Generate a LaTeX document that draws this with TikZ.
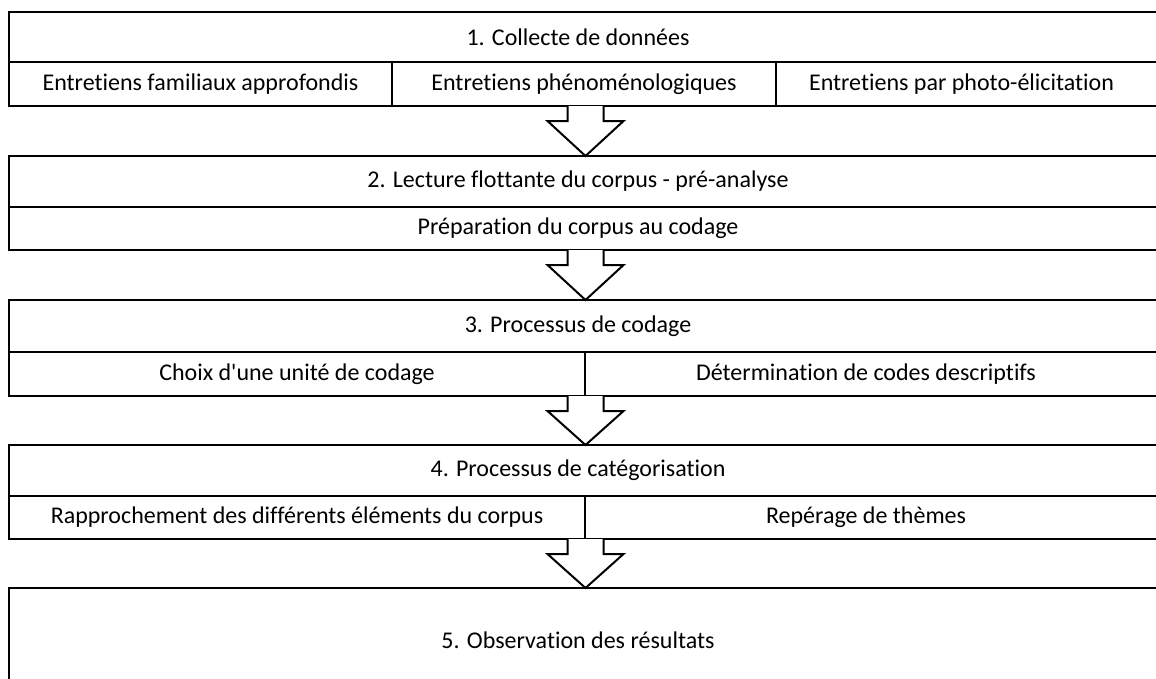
\documentclass[tikz,border=0pt]{standalone}
\usepackage{fontspec}
\setmainfont{Carlito}[Ligatures={TeXOff,NoCommon}]
\usetikzlibrary{calc}

\tikzset{
  x=1pt, y=-1pt,
  frame/.style={line width=2pt, line cap=rect},
  cell/.style={inner sep=0pt, outer sep=0pt, font=\fontsize{24}{28}\selectfont},
  arr/.style={line width=2pt, fill=white, line join=miter},
}

% cell node: #1 name, #2 left, #3 top, #4 right, #5 bottom, #6 text
\newcommand\cellnode[6]{%
  \node[cell, minimum width={(#4)-(#2)}, minimum height={(#5)-(#3)}]
    (#1) at ({((#2)+(#4))/2},{((#3)+(#5))/2}) {#6};}

% hollow block arrow from the bottom of one box to the top of the next
\newcommand\flowarrow[2]{%
  \path (ax |- #1.south) coordinate (s) (ax |- #2.north) coordinate (e);
  \draw[arr] ([xshift=-18pt]s) -- ++(0,15) -- ++(-20,0) -- (e)
    -- ($(s)+(38,15)$) -- ++(-20,0) -- ([xshift=18pt]s);}

\begin{document}
\begin{tikzpicture}
\useasboundingbox (0,0) rectangle (1156,678);
\clip (0,0) rectangle (1156,678);
\coordinate (ax) at (585.5,0);

% 1. data collection
\cellnode{t1}{9}{12}{1147}{62}{1. Collecte de données}
\cellnode{r1a}{9}{62}{392}{106}{Entretiens familiaux approfondis}
\cellnode{r1b}{392}{62}{776}{106}{Entretiens phénoménologiques}
\cellnode{r1c}{776}{62}{1147}{106}{Entretiens par photo-élicitation}
\draw[frame] (1170,0 |- t1.north) -| (r1a.south west) -- (1170,0 |- r1a.south);
\draw[frame] (t1.south west) -- (1170,0 |- t1.south);
\draw[frame] (r1a.north east) -- (r1a.south east);
\draw[frame] (r1b.north east) -- (r1b.south east);

% 2. first reading
\cellnode{t2}{9}{156}{1147}{207}{2. Lecture flottante du corpus - pré-analyse}
\cellnode{r2}{9}{207}{1147}{250}{Préparation du corpus au codage}
\draw[frame] (1170,0 |- t2.north) -| (r2.south west) -- (1170,0 |- r2.south);
\draw[frame] (t2.south west) -- (1170,0 |- t2.south);

% 3. coding
\cellnode{t3}{9}{300}{1147}{352}{3. Processus de codage}
\cellnode{r3a}{9}{352}{585}{396}{Choix d'une unité de codage}
\cellnode{r3b}{585}{352}{1147}{396}{Détermination de codes descriptifs}
\draw[frame] (1170,0 |- t3.north) -| (r3a.south west) -- (1170,0 |- r3a.south);
\draw[frame] (t3.south west) -- (1170,0 |- t3.south);
\draw[frame] (r3a.north east) -- (r3a.south east);

% 4. categorisation
\cellnode{t4}{9}{445}{1147}{496}{4. Processus de catégorisation}
\cellnode{r4a}{9}{496}{585}{539}{Rapprochement des différents éléments du corpus}
\cellnode{r4b}{585}{496}{1147}{539}{Repérage de thèmes}
\draw[frame] (1170,0 |- t4.north) -| (r4a.south west) -- (1170,0 |- r4a.south);
\draw[frame] (t4.south west) -- (1170,0 |- t4.south);
\draw[frame] (r4a.north east) -- (r4a.south east);

% 5. results
\cellnode{t5}{9}{588}{1147}{692}{5. Observation des résultats}
\draw[frame] (1170,0 |- t5.north) -| (t5.south west);

% arrows between the stages
\flowarrow{r1b}{t2}
\flowarrow{r2}{t3}
\flowarrow{r3a}{t4}
\flowarrow{r4a}{t5}
\end{tikzpicture}
\end{document}
